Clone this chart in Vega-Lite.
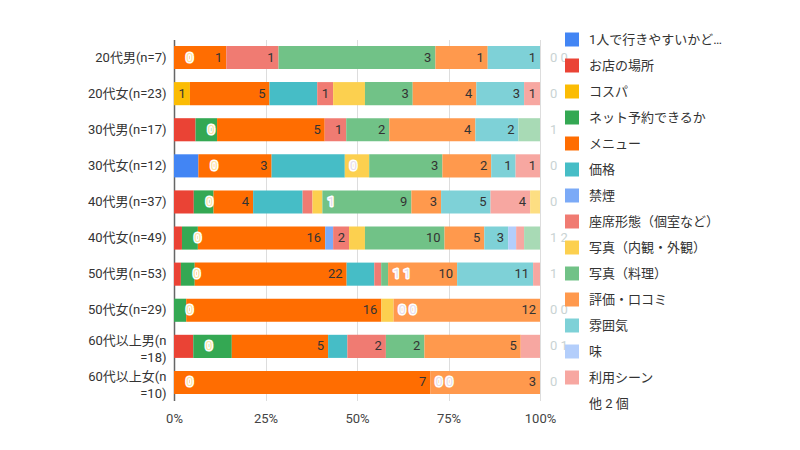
{
  "$schema": "https://vega.github.io/schema/vega-lite/v6.json",
  "width": 366,
  "height": 361,
  "autosize": {"type": "none"},
  "padding": {"left": 174, "top": 39.5, "right": 260, "bottom": 49.5},
  "background": "white",
  "config": {"font": "Roboto, 'Noto Sans CJK JP', sans-serif", "view": {"stroke": null}},
  "datasets": {
    "cats": [
      {"k": "c1", "c": "1人で行きやすいかどうか", "o": 1},
      {"k": "c2", "c": "お店の場所", "o": 2},
      {"k": "c3", "c": "コスパ", "o": 3},
      {"k": "c4", "c": "ネット予約できるか", "o": 4},
      {"k": "c5", "c": "メニュー", "o": 5},
      {"k": "c6", "c": "価格", "o": 6},
      {"k": "c7", "c": "禁煙", "o": 7},
      {"k": "c8", "c": "座席形態（個室など）", "o": 8},
      {"k": "c9", "c": "写真（内観・外観）", "o": 9},
      {"k": "c10", "c": "写真（料理）", "o": 10},
      {"k": "c11", "c": "評価・口コミ", "o": 11},
      {"k": "c12", "c": "雰囲気", "o": 12},
      {"k": "c13", "c": "味", "o": 13},
      {"k": "c14", "c": "利用シーン", "o": 14},
      {"k": "c15", "c": "その他1", "o": 15},
      {"k": "c16", "c": "その他2", "o": 16}
    ]
  },
  "data": {
    "values": [
      {"g": "20代男(n=7)", "k": "c3", "v": 0, "t": "0", "lt": "z"},
      {"g": "20代男(n=7)", "k": "c5", "v": 1, "t": "1", "lt": "in"},
      {"g": "20代男(n=7)", "k": "c8", "v": 1, "t": "1", "lt": "in"},
      {"g": "20代男(n=7)", "k": "c10", "v": 3, "t": "3", "lt": "in"},
      {"g": "20代男(n=7)", "k": "c11", "v": 1, "t": "1", "lt": "in"},
      {"g": "20代男(n=7)", "k": "c12", "v": 1, "t": "1", "lt": "in"},
      {"g": "20代男(n=7)", "k": "c14", "v": 0, "t": "0 0", "lt": "out"},

      {"g": "20代女(n=23)", "k": "c3", "v": 1, "t": "1", "lt": "in"},
      {"g": "20代女(n=23)", "k": "c5", "v": 5, "t": "5", "lt": "in"},
      {"g": "20代女(n=23)", "k": "c6", "v": 3},
      {"g": "20代女(n=23)", "k": "c8", "v": 1, "t": "1", "lt": "in"},
      {"g": "20代女(n=23)", "k": "c9", "v": 2},
      {"g": "20代女(n=23)", "k": "c10", "v": 3, "t": "3", "lt": "in"},
      {"g": "20代女(n=23)", "k": "c11", "v": 4, "t": "4", "lt": "in"},
      {"g": "20代女(n=23)", "k": "c12", "v": 3, "t": "3", "lt": "in"},
      {"g": "20代女(n=23)", "k": "c14", "v": 1, "t": "1", "lt": "in"},
      {"g": "20代女(n=23)", "k": "c16", "v": 0, "t": "0", "lt": "out"},

      {"g": "30代男(n=17)", "k": "c2", "v": 1},
      {"g": "30代男(n=17)", "k": "c3", "v": 0, "t": "0", "lt": "z"},
      {"g": "30代男(n=17)", "k": "c4", "v": 1},
      {"g": "30代男(n=17)", "k": "c5", "v": 5, "t": "5", "lt": "in"},
      {"g": "30代男(n=17)", "k": "c8", "v": 1, "t": "1", "lt": "in"},
      {"g": "30代男(n=17)", "k": "c10", "v": 2, "t": "2", "lt": "in"},
      {"g": "30代男(n=17)", "k": "c11", "v": 4, "t": "4", "lt": "in"},
      {"g": "30代男(n=17)", "k": "c12", "v": 2, "t": "2", "lt": "in"},
      {"g": "30代男(n=17)", "k": "c16", "v": 1, "t": "1", "lt": "out"},

      {"g": "30代女(n=12)", "k": "c1", "v": 1},
      {"g": "30代女(n=12)", "k": "c3", "v": 0, "t": "0", "lt": "z"},
      {"g": "30代女(n=12)", "k": "c5", "v": 3, "t": "3", "lt": "in"},
      {"g": "30代女(n=12)", "k": "c6", "v": 3},
      {"g": "30代女(n=12)", "k": "c8", "v": 0, "t": "0", "lt": "a"},
      {"g": "30代女(n=12)", "k": "c9", "v": 1},
      {"g": "30代女(n=12)", "k": "c10", "v": 3, "t": "3", "lt": "in"},
      {"g": "30代女(n=12)", "k": "c11", "v": 2, "t": "2", "lt": "in"},
      {"g": "30代女(n=12)", "k": "c12", "v": 1, "t": "1", "lt": "in"},
      {"g": "30代女(n=12)", "k": "c14", "v": 1, "t": "1", "lt": "in"},
      {"g": "30代女(n=12)", "k": "c16", "v": 0, "t": "0", "lt": "out"},

      {"g": "40代男(n=37)", "k": "c2", "v": 2},
      {"g": "40代男(n=37)", "k": "c3", "v": 0, "t": "0", "lt": "z"},
      {"g": "40代男(n=37)", "k": "c4", "v": 2},
      {"g": "40代男(n=37)", "k": "c5", "v": 4, "t": "4", "lt": "in"},
      {"g": "40代男(n=37)", "k": "c6", "v": 5},
      {"g": "40代男(n=37)", "k": "c8", "v": 1},
      {"g": "40代男(n=37)", "k": "c9", "v": 1, "t": "1", "lt": "a"},
      {"g": "40代男(n=37)", "k": "c10", "v": 9, "t": "9", "lt": "in"},
      {"g": "40代男(n=37)", "k": "c11", "v": 3, "t": "3", "lt": "in"},
      {"g": "40代男(n=37)", "k": "c12", "v": 5, "t": "5", "lt": "in"},
      {"g": "40代男(n=37)", "k": "c14", "v": 4, "t": "4", "lt": "in"},
      {"g": "40代男(n=37)", "k": "c15", "v": 1},
      {"g": "40代男(n=37)", "k": "c16", "v": 0, "t": "0", "lt": "out"},

      {"g": "40代女(n=49)", "k": "c2", "v": 1},
      {"g": "40代女(n=49)", "k": "c3", "v": 0, "t": "0", "lt": "z"},
      {"g": "40代女(n=49)", "k": "c4", "v": 2},
      {"g": "40代女(n=49)", "k": "c5", "v": 16, "t": "16", "lt": "in"},
      {"g": "40代女(n=49)", "k": "c7", "v": 1},
      {"g": "40代女(n=49)", "k": "c8", "v": 2, "t": "2", "lt": "in"},
      {"g": "40代女(n=49)", "k": "c9", "v": 2},
      {"g": "40代女(n=49)", "k": "c10", "v": 10, "t": "10", "lt": "in"},
      {"g": "40代女(n=49)", "k": "c11", "v": 5, "t": "5", "lt": "in"},
      {"g": "40代女(n=49)", "k": "c12", "v": 3, "t": "3", "lt": "in"},
      {"g": "40代女(n=49)", "k": "c13", "v": 1},
      {"g": "40代女(n=49)", "k": "c14", "v": 1},
      {"g": "40代女(n=49)", "k": "c16", "v": 2, "t": "1 2", "lt": "out"},

      {"g": "50代男(n=53)", "k": "c2", "v": 1},
      {"g": "50代男(n=53)", "k": "c3", "v": 0, "t": "0", "lt": "z"},
      {"g": "50代男(n=53)", "k": "c4", "v": 2},
      {"g": "50代男(n=53)", "k": "c5", "v": 22, "t": "22", "lt": "in"},
      {"g": "50代男(n=53)", "k": "c6", "v": 4},
      {"g": "50代男(n=53)", "k": "c8", "v": 1},
      {"g": "50代男(n=53)", "k": "c10", "v": 1, "t": "1 1", "lt": "a"},
      {"g": "50代男(n=53)", "k": "c11", "v": 10, "t": "10", "lt": "in"},
      {"g": "50代男(n=53)", "k": "c12", "v": 11, "t": "11", "lt": "in"},
      {"g": "50代男(n=53)", "k": "c14", "v": 1, "t": "1", "lt": "out"},

      {"g": "50代女(n=29)", "k": "c3", "v": 0, "t": "0", "lt": "z"},
      {"g": "50代女(n=29)", "k": "c4", "v": 1},
      {"g": "50代女(n=29)", "k": "c5", "v": 16, "t": "16", "lt": "in"},
      {"g": "50代女(n=29)", "k": "c9", "v": 1},
      {"g": "50代女(n=29)", "k": "c10", "v": 0, "t": "0 0", "lt": "a"},
      {"g": "50代女(n=29)", "k": "c11", "v": 12, "t": "12", "lt": "in"},
      {"g": "50代女(n=29)", "k": "c16", "v": 0, "t": "0 0", "lt": "out"},

      {"g": "60代以上男(n=18)", "k": "c2", "v": 1},
      {"g": "60代以上男(n=18)", "k": "c3", "v": 0, "t": "0", "lt": "z"},
      {"g": "60代以上男(n=18)", "k": "c4", "v": 2},
      {"g": "60代以上男(n=18)", "k": "c5", "v": 5, "t": "5", "lt": "in"},
      {"g": "60代以上男(n=18)", "k": "c6", "v": 1},
      {"g": "60代以上男(n=18)", "k": "c8", "v": 2, "t": "2", "lt": "in"},
      {"g": "60代以上男(n=18)", "k": "c10", "v": 2, "t": "2", "lt": "in"},
      {"g": "60代以上男(n=18)", "k": "c11", "v": 5, "t": "5", "lt": "in"},
      {"g": "60代以上男(n=18)", "k": "c14", "v": 1, "t": "0 1", "lt": "out"},

      {"g": "60代以上女(n=10)", "k": "c3", "v": 0, "t": "0", "lt": "z"},
      {"g": "60代以上女(n=10)", "k": "c5", "v": 7, "t": "7", "lt": "in"},
      {"g": "60代以上女(n=10)", "k": "c9", "v": 0, "t": "0 0", "lt": "a"},
      {"g": "60代以上女(n=10)", "k": "c11", "v": 3, "t": "3", "lt": "in"},
      {"g": "60代以上女(n=10)", "k": "c16", "v": 0, "t": "0", "lt": "out"}
    ]
  },
  "transform": [
    {"lookup": "k", "from": {"data": {"name": "cats"}, "key": "k", "fields": ["c", "o"]}},
    {"stack": "v", "groupby": ["g"], "sort": [{"field": "o", "order": "ascending"}], "offset": "normalize", "as": ["x0", "x1"]}
  ],
  "encoding": {
    "y": {
      "field": "g",
      "type": "nominal",
      "sort": ["20代男(n=7)", "20代女(n=23)", "30代男(n=17)", "30代女(n=12)", "40代男(n=37)", "40代女(n=49)", "50代男(n=53)", "50代女(n=29)", "60代以上男(n=18)", "60代以上女(n=10)"],
      "scale": {"paddingInner": 0.36, "paddingOuter": 0.18},
      "axis": {
        "title": null,
        "ticks": false,
        "domain": true,
        "domainColor": "#666666",
        "domainWidth": 1.5,
        "labelPadding": 8,
        "labelFontSize": 13,
        "labelColor": "#333333",
        "labelLineHeight": 17,
        "labelLimit": 200,
        "labelOffset": {"condition": {"test": "indexof(datum.value, '60代') == 0", "value": -5.5}, "value": 0},
        "labelExpr": "datum.label == '60代以上男(n=18)' ? ['60代以上男(n', '=18)'] : datum.label == '60代以上女(n=10)' ? ['60代以上女(n', '=10)'] : datum.label"
      }
    },
    "x": {
      "field": "x1",
      "type": "quantitative",
      "scale": {"domain": [0, 1]},
      "axis": {
        "title": null,
        "values": [0, 0.25, 0.5, 0.75, 1],
        "format": "%",
        "grid": true,
        "gridColor": "#dddddd",
        "domain": false,
        "ticks": false,
        "tickSize": 0,
        "labelFlush": false,
        "labelPadding": 12,
        "labelFontSize": 13,
        "labelColor": "#444444"
      }
    }
  },
  "layer": [
    {
      "mark": {"type": "bar"},
      "encoding": {
        "x2": {"field": "x0"},
        "color": {
          "field": "c",
          "type": "nominal",
          "scale": {
            "domain": ["1人で行きやすいかどうか", "お店の場所", "コスパ", "ネット予約できるか", "メニュー", "価格", "禁煙", "座席形態（個室など）", "写真（内観・外観）", "写真（料理）", "評価・口コミ", "雰囲気", "味", "利用シーン", "その他1", "その他2", "他 2 個"],
            "range": ["#4285F4", "#EA4335", "#FBBC04", "#34A853", "#FF6D01", "#46BDC6", "#7BAAF7", "#F07B72", "#FCD04F", "#71C287", "#FF994D", "#7ED1D7", "#B3CEFB", "#F7A7A1", "#FDDE82", "#A8DAB5", "transparent"]
          },
          "legend": {
            "orient": "none",
            "legendX": 391,
            "legendY": -7,
            "title": null,
            "values": ["1人で行きやすいかどうか", "お店の場所", "コスパ", "ネット予約できるか", "メニュー", "価格", "禁煙", "座席形態（個室など）", "写真（内観・外観）", "写真（料理）", "評価・口コミ", "雰囲気", "味", "利用シーン", "他 2 個"],
            "symbolType": "square",
            "symbolSize": 196,
            "symbolStrokeWidth": 0,
            "labelFontSize": 13,
            "labelColor": "#333333",
            "labelOffset": 10,
            "labelLimit": 220,
            "rowPadding": 12,
            "labelExpr": "datum.label == '1人で行きやすいかどうか' ? '1人で行きやすいかど…' : datum.label"
          }
        }
      }
    },
    {
      "transform": [{"filter": {"field": "lt", "equal": "in"}}],
      "mark": {"type": "text", "align": "right", "baseline": "middle", "dx": -4, "fontSize": 13, "fill": "#333333"},
      "encoding": {"text": {"field": "t", "type": "nominal"}}
    },
    {
      "transform": [{"filter": {"field": "lt", "equal": "z"}}],
      "mark": {"type": "text", "align": "left", "baseline": "middle", "dx": 12, "fontSize": 13, "fill": "white", "stroke": "white", "strokeWidth": 3, "strokeJoin": "round"},
      "encoding": {"text": {"field": "t", "type": "nominal"}}
    },
    {
      "transform": [{"filter": {"field": "lt", "equal": "z"}}],
      "mark": {"type": "text", "align": "left", "baseline": "middle", "dx": 12, "fontSize": 13, "fill": "#FCE3A0"},
      "encoding": {"text": {"field": "t", "type": "nominal"}}
    },
    {
      "transform": [{"filter": {"field": "lt", "equal": "a"}}],
      "mark": {"type": "text", "align": "left", "baseline": "middle", "dx": 5, "fontSize": 13, "fill": "white", "stroke": "white", "strokeWidth": 3, "strokeJoin": "round"},
      "encoding": {"text": {"field": "t", "type": "nominal"}}
    },
    {
      "transform": [{"filter": {"field": "lt", "equal": "a"}}],
      "mark": {"type": "text", "align": "left", "baseline": "middle", "dx": 5, "fontSize": 13, "fill": "#E6DCEB"},
      "encoding": {"text": {"field": "t", "type": "nominal"}}
    },
    {
      "transform": [{"filter": {"field": "lt", "equal": "out"}}],
      "mark": {"type": "text", "align": "left", "baseline": "middle", "dx": 10, "fontSize": 13, "fill": "#C9D3D3"},
      "encoding": {"text": {"field": "t", "type": "nominal"}}
    }
  ]
}
